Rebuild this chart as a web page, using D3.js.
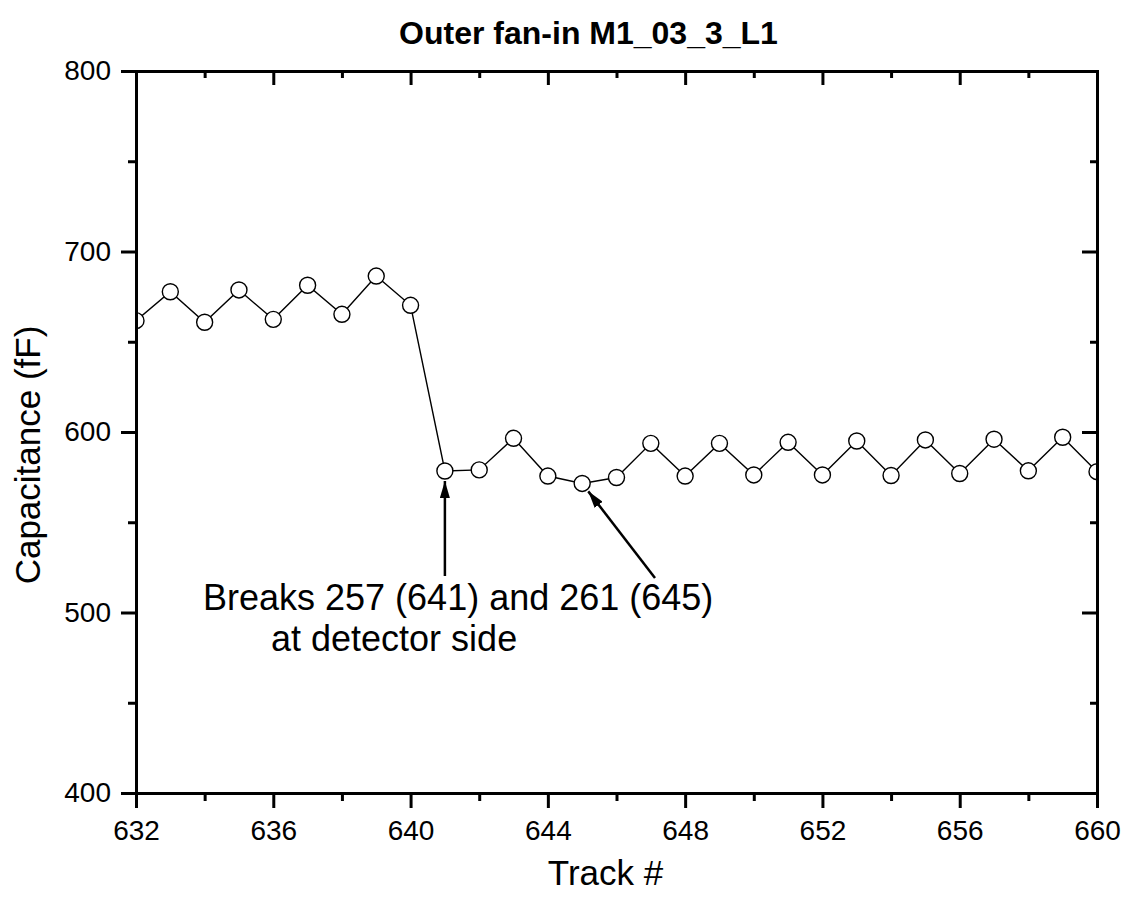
<!DOCTYPE html>
<html>
<head>
<meta charset="utf-8">
<script src="https://cdn.jsdelivr.net/npm/d3@7"></script>
<style>
    body { margin: 0; background: #fff; }
    text { font-family: 'Liberation Sans', Arial, sans-serif; fill: #000; }
    .axis path, .axis line { stroke: #000; stroke-width: 3; }
    .axis text { font-size: 28px; }
</style>
</head>
<body>
<script>

// data
var tracks = [632, 633, 634, 635, 636, 637, 638, 639, 640, 641, 642, 643, 644, 645, 646,
              647, 648, 649, 650, 651, 652, 653, 654, 655, 656, 657, 658, 659, 660];
var capacitance = [661.7, 677.7, 660.8, 678.7, 662.4, 681.3, 665.2, 686.4, 670.2, 578.4,
                   579.0, 596.5, 575.6, 571.5, 574.8, 593.7, 575.6, 593.7, 576.2, 594.3,
                   576.2, 595.0, 575.9, 595.6, 577.0, 596.0, 578.5, 597.1, 578.0];

var xMajor = [632, 636, 640, 644, 648, 652, 656, 660];
var xMinor = [634, 638, 642, 646, 650, 654, 658];
var yMajor = [400, 500, 600, 700, 800];
var yMinor = [450, 550, 650, 750];

var title = 'Outer fan-in M1_03_3_L1';
var xTitle = 'Track #';
var yTitle = 'Capacitance (fF)';
var noteLines = ['Breaks 257 (641) and 261 (645)', 'at detector side'];
// arrows point at tracks 641 and 645
var arrowTargets = [641, 645];

var margin = {top: 71, right: 36, bottom: 109, left: 136},
    width = 1133 - margin.left - margin.right,
    height = 902 - margin.top - margin.bottom;

var x = d3.scaleLinear().domain([632, 660]).range([0, width]);
var y = d3.scaleLinear().domain([400, 800]).range([height, 0]);

var svg = d3.select('body').append('svg')
    .attr('width', 1133)
    .attr('height', 902);

var defs = svg.append('defs');
defs.append('clipPath')
    .attr('id', 'clip')
    .append('rect')
    .attr('width', width)
    .attr('height', height);
defs.append('marker')
    .attr('id', 'head')
    .attr('viewBox', '0 0 17 10')
    .attr('refX', 17)
    .attr('refY', 5)
    .attr('markerWidth', 17)
    .attr('markerHeight', 10)
    .attr('markerUnits', 'userSpaceOnUse')
    .attr('orient', 'auto')
    .append('path')
    .attr('d', 'M0,0L17,5L0,10Z')
    .attr('fill', '#000');

var focus = svg.append('g')
    .attr('transform', 'translate(' + margin.left + ',' + margin.top + ')');

// title
svg.append('text')
    .attr('x', margin.left + width / 2 - 28)
    .attr('y', 44)
    .attr('text-anchor', 'middle')
    .attr('font-size', '32px')
    .attr('font-weight', 'bold')
    .text(title);

// line + open circles
var points = tracks.map(function(t, i) { return {t: t, c: capacitance[i]}; });

var plot = focus.append('g').attr('clip-path', 'url(#clip)');

plot.append('path')
    .datum(points)
    .attr('fill', 'none')
    .attr('stroke', '#000')
    .attr('stroke-width', 1.4)
    .attr('d', d3.line()
        .x(function(d) { return x(d.t); })
        .y(function(d) { return y(d.c); }));

plot.selectAll('circle')
    .data(points)
    .enter().append('circle')
    .attr('cx', function(d) { return x(d.t); })
    .attr('cy', function(d) { return y(d.c); })
    .attr('r', 8)
    .attr('fill', '#fff')
    .attr('stroke', '#000')
    .attr('stroke-width', 1.4);

// axes: bottom/left ticks outward, top/right ticks inward
function minorAxis(axis, vals, size) {
    return axis.tickValues(vals).tickSize(size).tickFormat('');
}

focus.append('g')
    .attr('class', 'axis')
    .attr('transform', 'translate(0,' + height + ')')
    .call(minorAxis(d3.axisBottom(x), xMinor, 8));
focus.append('g')
    .attr('class', 'axis')
    .attr('transform', 'translate(0,' + height + ')')
    .call(d3.axisBottom(x).tickValues(xMajor).tickSizeInner(15).tickSizeOuter(0).tickPadding(12));

focus.append('g')
    .attr('class', 'axis')
    .call(minorAxis(d3.axisLeft(y), yMinor, 8));
focus.append('g')
    .attr('class', 'axis')
    .call(d3.axisLeft(y).tickValues(yMajor).tickSizeInner(15).tickSizeOuter(0).tickPadding(10));

focus.append('g')
    .attr('class', 'axis')
    .call(minorAxis(d3.axisTop(x), xMinor, -7));
focus.append('g')
    .attr('class', 'axis')
    .call(minorAxis(d3.axisTop(x), xMajor, -14));

focus.append('g')
    .attr('class', 'axis')
    .attr('transform', 'translate(' + width + ',0)')
    .call(minorAxis(d3.axisRight(y), yMinor, -7));
focus.append('g')
    .attr('class', 'axis')
    .attr('transform', 'translate(' + width + ',0)')
    .call(minorAxis(d3.axisRight(y), yMajor, -15));

focus.selectAll('.axis path').attr('stroke-linecap', 'square');

// axis titles
focus.append('text')
    .attr('text-anchor', 'middle')
    .attr('font-size', '35px')
    .attr('transform', 'translate(' + (width / 2 - 11) + ',' + (height + 92) + ')')
    .text(xTitle);

focus.append('text')
    .attr('text-anchor', 'middle')
    .attr('font-size', '35px')
    .attr('transform', 'translate(' + (-96) + ',' + (height / 2 + 23) + ')rotate(-90)')
    .text(yTitle);

// annotation
focus.append('text')
    .attr('x', 203 - margin.left)
    .attr('y', 610 - margin.top)
    .attr('font-size', '36px')
    .text(noteLines[0]);
focus.append('text')
    .attr('x', 271 - margin.left)
    .attr('y', 651 - margin.top)
    .attr('font-size', '36px')
    .text(noteLines[1]);

var tails = [[x(arrowTargets[0]), 576 - margin.top], [655 - margin.left, 578 - margin.top]];
var tips = arrowTargets.map(function(t, i) {
    var cx = x(t), cy = y(capacitance[tracks.indexOf(t)]);
    var dx = tails[i][0] - cx, dy = tails[i][1] - cy, len = Math.sqrt(dx * dx + dy * dy);
    return [cx + dx / len * 10, cy + dy / len * 10];
});

focus.selectAll('.arrow')
    .data(tails)
    .enter().append('line')
    .attr('class', 'arrow')
    .attr('x1', function(d) { return d[0]; })
    .attr('y1', function(d) { return d[1]; })
    .attr('x2', function(d, i) { return tips[i][0]; })
    .attr('y2', function(d, i) { return tips[i][1]; })
    .attr('stroke', '#000')
    .attr('stroke-width', 2.5)
    .attr('marker-end', 'url(#head)');

</script>
</body>
</html>
